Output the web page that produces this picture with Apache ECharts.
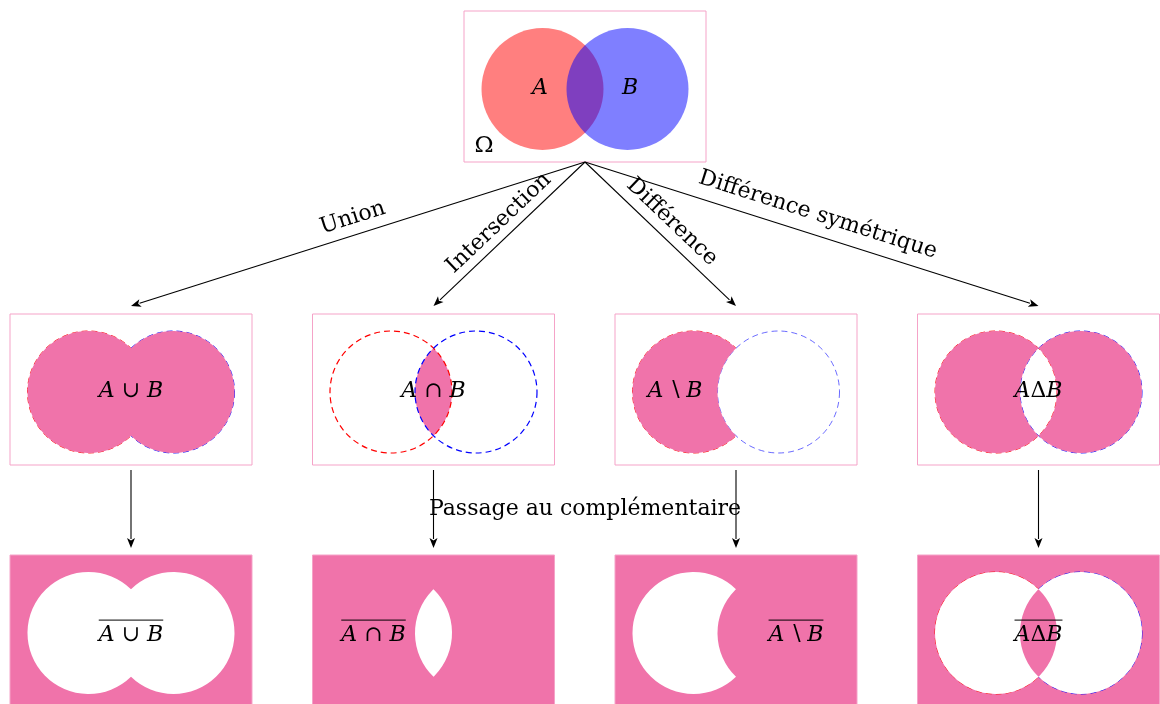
<!DOCTYPE html>
<html>
<head>
<meta charset="utf-8">
<script src="https://cdn.jsdelivr.net/npm/echarts@6/dist/echarts.min.js"></script>
<style>html,body{margin:0;padding:0;background:#fff}#c{width:1160px;height:704px}</style>
</head>
<body>
<div id="c"></div>
<script>
// ---- content ----
const operations = ['Union', 'Intersection', 'Différence', 'Différence symétrique'];
const operationKinds = ['union', 'inter', 'diff', 'symdiff'];
const setLabels = ['A ∪ B', 'A ∩ B', 'A\u2009∖\u2009B', 'AΔB'];
const complementLabels = ['A ∪ B', 'A ∩ B', 'A\u2009∖\u2009B', 'AΔB']; // drawn overlined
const baseSets = ['A', 'B'];
const universeLabel = 'Ω';
const complementCaption = 'Passage au complémentaire';

// ---- layout (data units = canvas pixels) ----
const L = {
  topC: [585, 86.5],
  colX: [131, 433.5, 736, 1038.5],
  rowY: [389.5, 630.5],
  halfW: 121, halfH: 75.5,
  off: 42.5, dy: 2.5, r: 61,
  arrowTipY: 306, vStart: 470, vEnd: 548,
  opLabelGap: [17, 15, 16.5, 20],
  setLabelDx: [0, 0, -61, 0],
  compLabelDx: [0, -60, 60, 0],
  capDyRow2: -2.5, capDyRow3: 0.6, capDyTop: -2,
  baseLabelX: [-45, 45],
  omega: [-101, 58.5],
  caption: [585, 508]
};
const FONT = 'DejaVu Serif';
const FS = 22;
const PINK = '#F073AA';
const BORDER = '#F5A3C8';
const RED_A = 'rgba(255,0,0,0.5)';
const BLUE_B = 'rgba(0,0,255,0.5)';

const mctx = document.createElement('canvas').getContext('2d');
function measure(label) {
  let w = 0;
  label.split(/([AB])/).forEach(p => {
    if (!p) return;
    mctx.font = (/^[AB]$/.test(p) ? 'italic ' : '') + FS + 'px "' + FONT + '"';
    w += mctx.measureText(p).width;
  });
  return w;
}

function geom(api, cx, cy) {
  const a = api.coord([cx - L.off, cy + L.dy]);
  const b = api.coord([cx + L.off, cy + L.dy]);
  const r = api.size([L.r, 0])[0];
  const xm = (a[0] + b[0]) / 2;
  const half = (b[0] - a[0]) / 2;
  const h = Math.sqrt(r * r - half * half);
  return { a, b, r, xm, cy: a[1], yt: a[1] - h, yb: a[1] + h };
}
const arc = (g, large, sweep, y) => `A${g.r} ${g.r} 0 ${large} ${sweep} ${g.xm} ${y}`;
const P = {
  lens: g => `M${g.xm} ${g.yt}${arc(g, 0, 1, g.yb)}${arc(g, 0, 1, g.yt)}Z`,
  aMinusB: g => `M${g.xm} ${g.yt}${arc(g, 1, 0, g.yb)}${arc(g, 0, 1, g.yt)}Z`,
  bMinusA: g => `M${g.xm} ${g.yt}${arc(g, 1, 1, g.yb)}${arc(g, 0, 0, g.yt)}Z`,
  union: g => `M${g.xm} ${g.yt}${arc(g, 1, 1, g.yb)}${arc(g, 1, 1, g.yt)}Z`
};
const pathEl = (d, fill) => ({ type: 'path', shape: { pathData: d }, style: { fill: fill, stroke: 'none' } });
const circleEl = (c, r, style) => ({ type: 'circle', shape: { cx: c[0], cy: c[1], r: r }, style: style });
const dashed = (c, r, color, w) => circleEl(c, r, { fill: 'none', stroke: color, lineWidth: w || 1.2, lineDash: [6, 4] });

function boxEl(api, cx, cy, fill) {
  const p0 = api.coord([cx - L.halfW, cy - L.halfH]);
  const p1 = api.coord([cx + L.halfW, cy + L.halfH]);
  return { type: 'rect', shape: { x: p0[0], y: p0[1], width: p1[0] - p0[0], height: p1[1] - p0[1] },
    style: { fill: fill, stroke: BORDER, lineWidth: 1 } };
}
function mathText(label, x, yCap) {
  return { type: 'text', x: x, y: yCap + 1.5,
    style: { text: label.replace(/([AB])/g, '{i|$1}'), fontSize: FS, fontFamily: FONT, fill: '#000',
      align: 'center', verticalAlign: 'middle',
      rich: { i: { fontSize: FS, fontFamily: FONT, fontStyle: 'italic', fill: '#000' } } } };
}
function arrowEls(p0, p1) {
  const dx = p1[0] - p0[0], dy = p1[1] - p0[1];
  const len = Math.hypot(dx, dy), ux = dx / len, uy = dy / len;
  const hl = 10, hw = 4;
  const bx = p1[0] - ux * hl, by = p1[1] - uy * hl;
  return [
    { type: 'line', shape: { x1: p0[0], y1: p0[1], x2: bx + ux, y2: by + uy }, style: { stroke: '#000', lineWidth: 1.1 } },
    { type: 'polygon', shape: { points: [[p1[0], p1[1]], [bx - uy * hw, by + ux * hw], [bx + ux * 2.5, by + uy * 2.5], [bx + uy * hw, by - ux * hw]] },
      style: { fill: '#000', stroke: 'none' } }
  ];
}

const option = {
  animation: false,
  backgroundColor: '#fff',
  grid: { left: 0, right: 0, top: 0, bottom: 0 },
  xAxis: { type: 'value', min: 0, max: 1160, show: false },
  yAxis: { type: 'value', min: 0, max: 704, inverse: true, show: false },
  series: [
    { // top universe box
      type: 'custom', coordinateSystem: 'cartesian2d',
      data: [[L.topC[0], L.topC[1]]],
      renderItem: (params, api) => {
        const cx = api.value(0), cy = api.value(1);
        const g = geom(api, cx, cy);
        const children = [boxEl(api, cx, cy, '#fff'),
          circleEl(g.a, g.r, { fill: RED_A }), circleEl(g.b, g.r, { fill: BLUE_B })];
        baseSets.forEach((s, k) => {
          const p = api.coord([cx + L.baseLabelX[k], cy + L.dy + L.capDyTop]);
          children.push(mathText(s, p[0], p[1]));
        });
        const po = api.coord([cx + L.omega[0], cy + L.omega[1]]);
        children.push({ type: 'text', x: po[0], y: po[1] + 1.5,
          style: { text: universeLabel, fontSize: 23, fontFamily: FONT, fill: '#000', align: 'center', verticalAlign: 'middle' } });
        return { type: 'group', children: children };
      }
    },
    { // operation results
      type: 'custom', coordinateSystem: 'cartesian2d',
      data: operations.map((op, i) => [L.colX[i], L.rowY[0], i]),
      renderItem: (params, api) => {
        const cx = api.value(0), cy = api.value(1), i = api.value(2);
        const g = geom(api, cx, cy);
        const kind = operationKinds[i];
        const ch = [boxEl(api, cx, cy, '#fff')];
        if (kind === 'union') {
          ch.push(dashed(g.a, g.r, '#f00', 0.9), dashed(g.b, g.r, '#00f', 0.9), pathEl(P.union(g), PINK));
        } else if (kind === 'inter') {
          ch.push(pathEl(P.lens(g), PINK), dashed(g.a, g.r, '#f00'), dashed(g.b, g.r, '#00f'));
        } else if (kind === 'diff') {
          ch.push(dashed(g.a, g.r, '#f00', 0.9), circleEl(g.b, g.r, { fill: '#fff' }),
            dashed(g.b, g.r, 'rgba(0,0,255,0.65)', 0.9), pathEl(P.aMinusB(g), PINK));
        } else {
          ch.push(dashed(g.a, g.r, '#f00', 0.9), dashed(g.b, g.r, '#00f', 0.9), pathEl(P.aMinusB(g), PINK), pathEl(P.bMinusA(g), PINK));
        }
        const p = api.coord([cx + L.setLabelDx[i], cy + L.dy + L.capDyRow2]);
        ch.push(mathText(setLabels[i], p[0], p[1]));
        return { type: 'group', children: ch };
      }
    },
    { // complements
      type: 'custom', coordinateSystem: 'cartesian2d',
      data: operations.map((op, i) => [L.colX[i], L.rowY[1], i]),
      renderItem: (params, api) => {
        const cx = api.value(0), cy = api.value(1), i = api.value(2);
        const g = geom(api, cx, cy);
        const kind = operationKinds[i];
        const ch = [boxEl(api, cx, cy, PINK)];
        if (kind === 'union') {
          ch.push(pathEl(P.union(g), '#fff'));
        } else if (kind === 'inter') {
          ch.push(pathEl(P.lens(g), '#fff'));
        } else if (kind === 'diff') {
          ch.push(pathEl(P.aMinusB(g), '#fff'));
        } else {
          ch.push(dashed(g.a, g.r, '#f00', 0.9), dashed(g.b, g.r, '#00f', 0.9),
            pathEl(P.union(g), '#fff'), pathEl(P.lens(g), PINK));
        }
        const p = api.coord([cx + L.compLabelDx[i], cy + L.dy + L.capDyRow3]);
        const w = measure(complementLabels[i]);
        ch.push(mathText(complementLabels[i], p[0], p[1]));
        ch.push({ type: 'line', shape: { x1: p[0] - w / 2, y1: p[1] - 13.5, x2: p[0] + w / 2, y2: p[1] - 13.5 },
          style: { stroke: '#000', lineWidth: 1 } });
        return { type: 'group', children: ch };
      }
    },
    { // arrows from the universe to each operation, with sloped labels
      type: 'custom', coordinateSystem: 'cartesian2d',
      data: operations.map((op, i) => [L.topC[0], L.topC[1] + L.halfH, L.colX[i], L.arrowTipY, i]),
      renderItem: (params, api) => {
        const i = api.value(4);
        const p0 = api.coord([api.value(0), api.value(1)]);
        const p1 = api.coord([api.value(2), api.value(3)]);
        let dx = p1[0] - p0[0], dy = p1[1] - p0[1];
        if (dx < 0) { dx = -dx; dy = -dy; }
        const len = Math.hypot(dx, dy), ux = dx / len, uy = dy / len;
        const nx = uy, ny = -ux;
        const gap = L.opLabelGap[i];
        const mx = (p0[0] + p1[0]) / 2 + nx * gap, my = (p0[1] + p1[1]) / 2 + ny * gap;
        return { type: 'group', children: arrowEls(p0, p1).concat([{
          type: 'text', x: mx, y: my, rotation: -Math.atan2(dy, dx),
          style: { text: operations[i], fontSize: FS, fontFamily: FONT, fill: '#000', align: 'center', verticalAlign: 'middle' }
        }]) };
      }
    },
    { // complement arrows
      type: 'custom', coordinateSystem: 'cartesian2d',
      data: L.colX.map(x => [x, L.vStart, x, L.vEnd]),
      renderItem: (params, api) => {
        const p0 = api.coord([api.value(0), api.value(1)]);
        const p1 = api.coord([api.value(2), api.value(3)]);
        return { type: 'group', children: arrowEls(p0, p1) };
      }
    },
    { // caption
      type: 'custom', coordinateSystem: 'cartesian2d',
      data: [L.caption],
      renderItem: (params, api) => {
        const p = api.coord([api.value(0), api.value(1)]);
        return { type: 'text', x: p[0], y: p[1] + 1.5,
          style: { text: complementCaption, fontSize: FS, fontFamily: FONT, fill: '#000', align: 'center', verticalAlign: 'middle' } };
      }
    }
  ]
};
const chart = echarts.init(document.getElementById('c'));
chart.setOption(option);
</script>
</body>
</html>
